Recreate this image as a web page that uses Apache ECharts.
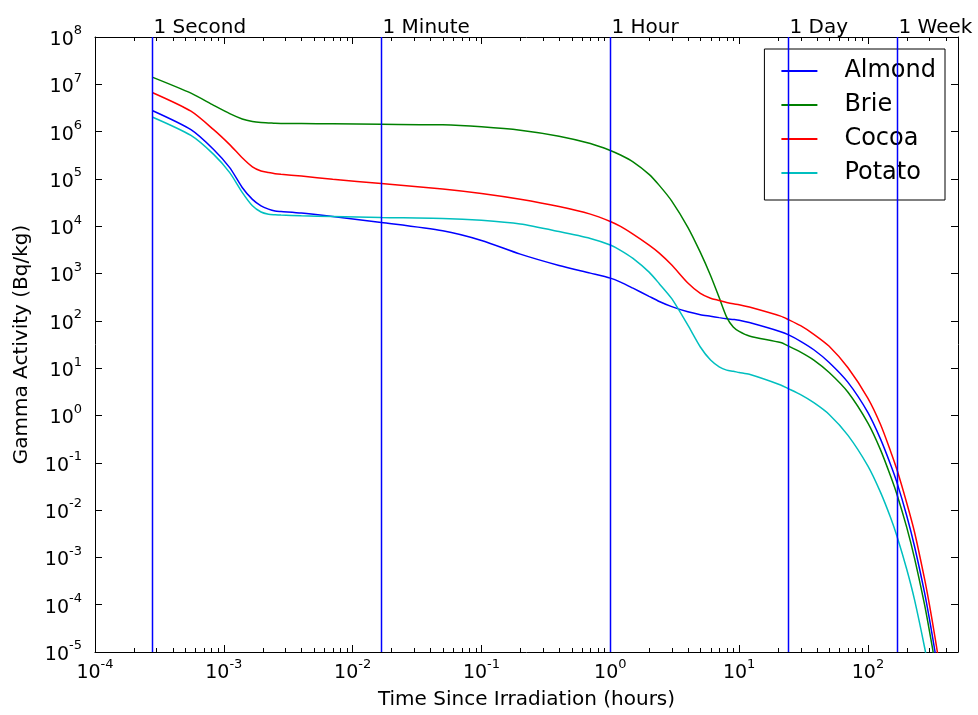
<!DOCTYPE html>
<html>
<head>
<meta charset="utf-8">
<title>Gamma Activity vs Time Since Irradiation</title>
<script src="https://cdn.jsdelivr.net/npm/echarts@6/dist/echarts.min.js"></script>
<style>
  html, body { margin: 0; padding: 0; background: #ffffff; }
  #chart { width: 978px; height: 715px; }
</style>
</head>
<body>
<div id="chart"></div>
<script>
// Time samples (hours) shared by every food curve
const hours = [2.778e-4, 5.556e-4, 8.333e-4, 1.111e-3, 1.389e-3, 1.667e-3, 1.944e-3, 2.222e-3, 2.5e-3, 2.778e-3,
  0.004, 0.007, 0.01667, 0.05, 0.1, 0.2, 0.4, 0.7, 1.0, 1.2,
  1.5, 2.0, 2.4, 3.0, 4.0, 5.0, 6.0, 7.0, 8.0, 9.0,
  10, 12, 21, 24, 30, 38, 50, 70, 100, 125,
  150, 168, 200, 230, 275, 300, 330, 350, 400];

// Gamma activity (Bq/kg) for each food
const almond = [2.8e6, 1.1e6, 4.2e5, 1.73e5, 6.6e4, 3.7e4, 2.7e4, 2.3e4, 2.1e4, 2.05e4,
  1.9e4, 1.6e4, 1.2e4, 8.0e3, 5.0e3, 2.57e3, 1.48e3, 1.02e3, 800, 660,
  490, 330, 257, 200, 155, 135, 125, 117, 111, 107,
  103, 92, 59, 51, 37, 24.5, 13.2, 5.0, 1.15, 0.32,
  0.091, 0.038, 7.6e-3, 1.7e-3, 1.8e-4, 5e-5, 1.1e-5, 4e-6, 3.2e-7];
const brie = [1.42e7, 6.5e6, 3.6e6, 2.4e6, 1.85e6, 1.63e6, 1.55e6, 1.53e6, 1.5e6, 1.49e6,
  1.48e6, 1.46e6, 1.43e6, 1.39e6, 1.26e6, 1.07e6, 8.0e5, 5.6e5, 4.0e5, 3.2e5,
  2.3e5, 1.25e5, 7.3e4, 3.4e4, 9.5e3, 2.8e3, 910, 310, 120, 74,
  60, 48, 34.7, 29.5, 21.9, 14.8, 8.1, 3.1, 0.69, 0.19,
  0.052, 0.0214, 4.3e-3, 9.5e-4, 1e-4, 2.8e-5, 6.3e-6, 2.2e-6, 1.8e-7];
const cocoa = [6.7e6, 2.7e6, 1.1e6, 5.3e5, 2.8e5, 1.8e5, 1.47e5, 1.36e5, 1.29e5, 1.25e5,
  1.15e5, 9.8e4, 8.0e4, 6.1e4, 4.9e4, 3.7e4, 2.6e4, 1.8e4, 1.26e4, 9.9e3,
  6.8e3, 3.98e3, 2.7e3, 1.51e3, 630, 380, 300, 270, 245, 229,
  220, 196, 126, 107, 79, 52, 29, 10.2, 2.3, 0.65,
  0.174, 0.071, 0.0141, 3.4e-3, 3.5e-4, 1e-4, 2.2e-5, 8.1e-6, 6.3e-7];
const potato = [2.04e6, 8.3e5, 3.3e5, 1.36e5, 5.2e4, 2.7e4, 2.0e4, 1.8e4, 1.75e4, 1.72e4,
  1.66e4, 1.61e4, 1.53e4, 1.46e4, 1.33e4, 1.11e4, 7.7e3, 5.5e3, 4.0e3, 3.1e3,
  2.09e3, 1.07e3, 610, 294, 81, 28, 14.8, 10.7, 9.1, 8.6,
  8.1, 7.4, 4.4, 3.7, 2.75, 1.86, 1.05, 0.38, 0.085, 0.024,
  6.9e-3, 2.8e-3, 5.6e-4, 1.26e-4, 1.26e-5, 3.5e-6, 6.3e-7, 2.5e-7, 2e-8];

const seriesNames = ['Almond', 'Brie', 'Cocoa', 'Potato'];
const seriesValues = [almond, brie, cocoa, potato];
const seriesColors = ['#0000ff', '#008000', '#ff0000', '#00bfbf'];

// Reference time markers
const refLabels = ['1 Second', '1 Minute', '1 Hour', '1 Day', '1 Week'];
const refHours = [1 / 3600, 1 / 60, 1, 24, 168];

// Axis ranges
const xMin = 1e-4, xMax = 500;
const yMin = 1e-5, yMax = 1e8;
const minorMultipliers = [2, 3, 4, 5, 6, 7, 8, 9];

const FONT = 'DejaVu Sans';

function powLabel(v) {
  const lg = Math.log10(v);
  const e = Math.round(lg);
  if (Math.abs(lg - e) > 1e-6) return '';
  return '{b|10}{s|' + e + '}';
}
const powRich = {
  b: { fontSize: 19, fontFamily: FONT, color: '#000', verticalAlign: 'bottom', padding: [6, 0, 0, 0] },
  s: { fontSize: 13, fontFamily: FONT, color: '#000', verticalAlign: 'top' }
};

// Minor tick values on the log time axis (2..9 within each decade)
const minorTicks = [];
for (let e = -4; e <= 2; e++) {
  for (let j = 0; j < minorMultipliers.length; j++) {
    const v = minorMultipliers[j] * Math.pow(10, e);
    if (v < xMax) minorTicks.push(v);
  }
}

const frameLine = { show: true, onZero: false, lineStyle: { color: '#000', width: 1 } };
const majorTick = { show: true, inside: true, length: 7, lineStyle: { color: '#000', width: 1 } };

function logAxisX(pos, withLabels) {
  return {
    type: 'log', logBase: 10, min: xMin, max: xMax, interval: 1, position: pos,
    axisLine: frameLine, axisTick: majorTick,
    axisLabel: withLabels ? { show: true, formatter: powLabel, rich: powRich, margin: 6, showMaxLabel: false } : { show: false },
    splitLine: { show: false }, minorTick: { show: false }
  };
}
function logAxisY(pos, withLabels) {
  return {
    type: 'log', logBase: 10, min: yMin, max: yMax, interval: 1, position: pos,
    axisLine: frameLine, axisTick: majorTick,
    axisLabel: withLabels ? { show: true, formatter: powLabel, rich: powRich, margin: 13 } : { show: false },
    splitLine: { show: false }, minorTick: { show: false }
  };
}

const xBottom = Object.assign(logAxisX('bottom', true), {
  name: 'Time Since Irradiation (hours)', nameLocation: 'middle', nameGap: 38,
  nameTextStyle: { fontSize: 20, fontFamily: FONT, color: '#000' }
});
const yLeft = Object.assign(logAxisY('left', true), {
  name: 'Gamma Activity (Bq/kg)', nameLocation: 'middle', nameGap: 63,
  nameTextStyle: { fontSize: 20, fontFamily: FONT, color: '#000' }
});

const curveSeries = seriesNames.map(function (name, k) {
  return {
    type: 'line', name: name, xAxisIndex: 0, yAxisIndex: 0,
    data: hours.map(function (h, i) { return [h, seriesValues[k][i]]; }),
    showSymbol: false, symbol: 'none', smooth: 0.25,
    color: seriesColors[k],
    lineStyle: { color: seriesColors[k], width: 1.5 },
    clip: true, z: 3
  };
});

// Frame decorations: kind 0 = vertical time marker with caption, kind 1 = minor tick pair
const frameMarks = refHours.map(function (h, i) { return [h, yMax, 0, i]; })
  .concat(minorTicks.map(function (v) { return [v, yMax, 1, -1]; }));

const frameSeries = {
  type: 'custom', name: 'frameMarks', xAxisIndex: 0, yAxisIndex: 0,
  data: frameMarks, encode: { x: 0, y: 1 },
  silent: true, clip: false, z: 4,
  renderItem: function (params, api) {
    const px = api.coord([api.value(0), yMax])[0];
    const cs = params.coordSys;
    const top = cs.y, bottom = cs.y + cs.height;
    if (api.value(2) === 0) {
      const x = Math.round(px) + 0.5;
      return {
        type: 'group',
        children: [
          { type: 'line', shape: { x1: x, y1: top, x2: x, y2: bottom },
            style: { stroke: '#0000ff', lineWidth: 1.5 } },
          { type: 'text', x: x + 1, y: top + 1,
            style: { text: refLabels[api.value(3)], fill: '#000', fontSize: 20, fontFamily: FONT,
                     align: 'left', verticalAlign: 'bottom' } }
        ]
      };
    }
    const xr = Math.round(px);
    return {
      type: 'group',
      children: [
        { type: 'rect', shape: { x: xr, y: bottom - 4, width: 1, height: 4 },
          style: { fill: '#000000' } },
        { type: 'rect', shape: { x: xr, y: top, width: 1, height: 4 },
          style: { fill: '#000000' } }
      ]
    };
  }
};

const chart = echarts.init(document.getElementById('chart'), null, { renderer: 'canvas' });
chart.setOption({
  animation: false,
  backgroundColor: '#ffffff',
  grid: { left: 95, right: 20, top: 37, bottom: 60, containLabel: false },
  legend: {
    data: seriesNames, orient: 'vertical', right: 33, top: 49,
    backgroundColor: '#ffffff', borderColor: '#000', borderWidth: 1, borderRadius: 0,
    padding: [9, 9, 14, 17], itemWidth: 36, itemHeight: 2, itemGap: 8, icon: 'rect',
    textStyle: { fontSize: 24, fontFamily: FONT, color: '#000', padding: [0, 0, 0, 22], lineHeight: 26 },
    selectedMode: false
  },
  xAxis: [xBottom, logAxisX('top', false)],
  yAxis: [yLeft, logAxisY('right', false)],
  series: curveSeries.concat([frameSeries])
});
</script>
</body>
</html>
